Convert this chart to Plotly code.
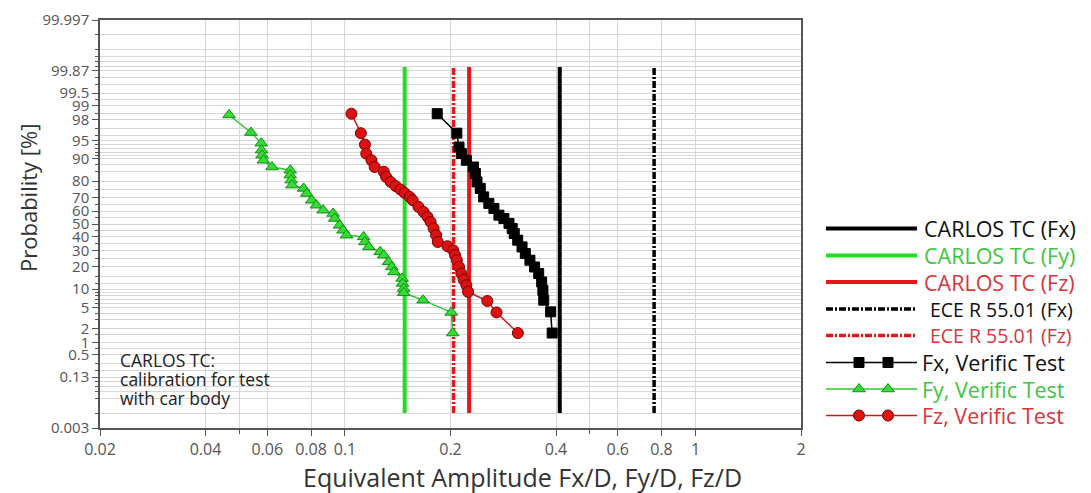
import math
from statistics import NormalDist
import plotly.graph_objects as go

# ---------------- data ----------------
# Verification test points: equivalent amplitude and probability [%]
fx_x = [0.1833, 0.2085, 0.2115, 0.2148, 0.222, 0.2325, 0.2355, 0.238, 0.2432, 0.2487,
        0.2573, 0.266, 0.2749, 0.284, 0.2937, 0.300, 0.304, 0.311, 0.320, 0.327,
        0.337, 0.3475, 0.357, 0.364, 0.367, 0.369, 0.386, 0.390]
fx_p = [98.5, 96.3, 93.5, 91.7, 89.5, 86.9, 84.0, 79.6, 75.8, 70.3,
        65.7, 62.0, 56.9, 54.3, 50.4, 46.5, 42.6, 37.5, 32.6, 28.1,
        23.8, 19.9, 16.5, 12.7, 9.6, 6.7, 4.2, 1.6]

fy_x = [0.0467, 0.0539, 0.0577, 0.0578, 0.0580, 0.0585, 0.0619, 0.0698, 0.0698, 0.0702,
        0.0706, 0.0762, 0.0778, 0.0804, 0.0829, 0.0866, 0.0925, 0.0935, 0.0965, 0.0987,
        0.101, 0.113, 0.114, 0.117, 0.126, 0.129, 0.133, 0.136, 0.138, 0.1455,
        0.146, 0.147, 0.147, 0.167, 0.201, 0.203]
fy_p = [98.4, 96.4, 94.4, 92.7, 91.2, 89.5, 86.9, 85.5, 83.2, 80.6,
        77.8, 75.8, 72.6, 68.0, 64.4, 60.7, 58.2, 54.3, 49.0, 45.1,
        41.3, 40.0, 36.2, 32.6, 29.2, 27.0, 22.8, 19.9, 17.3, 14.2,
        12.1, 10.2, 8.8, 6.7, 4.1, 1.6]

fz_x = [0.1043, 0.111, 0.114, 0.115, 0.119, 0.1215, 0.129, 0.131, 0.135, 0.1395,
        0.144, 0.148, 0.153, 0.156, 0.162, 0.1675, 0.172, 0.1755, 0.179, 0.182,
        0.184, 0.196, 0.2035, 0.206, 0.2085, 0.2115, 0.2148, 0.218, 0.222, 0.2245,
        0.2547, 0.2706, 0.3113]
fz_p = [98.5, 96.3, 94.1, 91.7, 89.5, 86.9, 84.8, 82.3, 79.6, 77.2,
        75.1, 73.0, 70.3, 68.0, 63.2, 59.4, 55.6, 51.6, 46.5, 41.3,
        36.2, 33.1, 30.3, 27.0, 23.8, 19.9, 16.5, 13.7, 11.4, 9.1,
        6.5, 4.1, 1.6]

# Limit lines (constant amplitude) and their probability extent [%]
carlos_names = ["CARLOS TC (Fx)", "CARLOS TC (Fy)", "CARLOS TC (Fz)"]
carlos_x = [0.41, 0.148, 0.226]
ece_names = ["ECE R 55.01 (Fx)", "ECE R 55.01 (Fz)"]
ece_x = [0.762, 0.204]
limit_p = [0.01, 99.9]

# Axis ticks
y_tick_vals = [0.003, 0.13, 0.5, 1, 2, 5, 10, 20, 30, 40, 50, 60, 70, 80, 90, 95, 98, 99, 99.5, 99.87, 99.997]
y_tick_text = ["0.003", "0.13", "0.5", "1", "2", "5", "10", "20", "30", "40", "50", "60", "70",
               "80", "90", "95", "98", "99", "99.5", "99.87", "99.997"]
y_minor_vals = [0.01, 0.03, 0.05, 0.07, 0.1, 0.2, 0.3, 0.7, 1.5, 3, 4, 6, 7, 8, 9, 12, 15, 25, 35, 45,
                55, 65, 75, 85, 88, 91, 92, 93, 94, 96, 97, 98.5, 99.3, 99.7, 99.8, 99.9, 99.93, 99.95,
                99.97, 99.99]
x_tick_vals = [0.02, 0.04, 0.06, 0.08, 0.1, 0.2, 0.4, 0.6, 0.8, 1, 2]
x_tick_text = ["0.02", "0.04", "0.06", "0.08", "0.1", "0.2", "0.4", "0.6", "0.8", "1", "2"]
x_minor_vals = [0.05, 0.5]

# ---------------- helpers ----------------
ND = NormalDist()


def z(p):
    return ND.inv_cdf(p / 100.0)


BLACK = "#000000"
GREEN = "#1fe01f"
RED = "#e8161c"
GREEN_TXT = "#3fc63f"
RED_TXT = "#d8353d"
FONT = "Open Sans"

fig = go.Figure()

# limit lines
carlos_colors = [BLACK, GREEN, RED]
for name, xv, col in zip(carlos_names, carlos_x, carlos_colors):
    fig.add_trace(go.Scatter(x=[xv, xv], y=[z(p) for p in limit_p], mode="lines",
                             line=dict(color=col, width=4), name=name, hoverinfo="skip"))
ece_colors = [BLACK, RED]
for name, xv, col in zip(ece_names, ece_x, ece_colors):
    fig.add_trace(go.Scatter(x=[xv, xv], y=[z(p) for p in limit_p], mode="lines",
                             line=dict(color=col, width=3.5, dash="7px,2px,2px,2px"), name=name,
                             hoverinfo="skip"))

# verification test series
series = [
    ("Fy, Verific Test", fy_x, fy_p, "#30c830", "triangle-up", "#33dd33", "#168a16", 11),
    ("Fz, Verific Test", fz_x, fz_p, "#d01818", "circle", "#dd1111", "#7a0000", 11),
    ("Fx, Verific Test", fx_x, fx_p, BLACK, "square", BLACK, BLACK, 10),
]
for name, xs, ps, lc, sym, fc, oc, sz in series:
    fig.add_trace(go.Scatter(x=xs, y=[z(p) for p in ps], mode="lines+markers", name=name,
                             line=dict(color=lc, width=1.5),
                             marker=dict(symbol=sym, size=sz, color=fc, line=dict(color=oc, width=1))))

# ---------------- geometry (page has an 8px body margin) ----------------
OFF = 8
W, H = 1091 - OFF, 493 - OFF
ML, MR, MT, MB = 100 - OFF, 5, 20 - OFF, H - (428 - OFF)
PW = W - ML - MR
PH = H - MT - MB
x_dom_end = 701 / PW
x2_start = x_dom_end + 0.001


def px_x(px):
    return (px - OFF - ML) / PW


def px_y(py):
    return (H - MB - (py - OFF)) / PH


# ---------------- manual legend (overlay axes in reference-pixel units) ----------------
legend_rows = [
    ("CARLOS TC (Fx)", 228.5, BLACK, "solid", 4, None, "#111111", 922, 21.5),
    ("CARLOS TC (Fy)", 255.5, GREEN, "solid", 4, None, GREEN_TXT, 922, 21.5),
    ("CARLOS TC (Fz)", 282, RED, "solid", 4, None, RED_TXT, 922, 21.5),
    ("ECE R 55.01 (Fx)", 309, BLACK, "7px,2px,2px,2px", 3.5, None, "#111111", 928, 19.5),
    ("ECE R 55.01 (Fz)", 335.5, RED, "7px,2px,2px,2px", 3.5, None, RED_TXT, 928, 19.5),
    ("Fx, Verific Test", 362.5, BLACK, "solid", 1.5, ("square", BLACK, BLACK, 10), "#111111", 920, 21.5),
    ("Fy, Verific Test", 389, "#30c830", "solid", 1.5, ("triangle-up", "#33dd33", "#168a16", 11),
     GREEN_TXT, 920, 21.5),
    ("Fz, Verific Test", 415.5, "#d01818", "solid", 1.5, ("circle", "#dd1111", "#7a0000", 11),
     RED_TXT, 920, 21.5),
]
for label, yy, col, dash, w, mk, tcol, tx, fs in legend_rows:
    fig.add_trace(go.Scatter(x=[826, 917], y=[yy, yy], mode="lines", xaxis="x2", yaxis="y2",
                             line=dict(color=col, width=w, dash=dash), showlegend=False,
                             hoverinfo="skip"))
    if mk is not None:
        sym, fc, oc, sz = mk
        fig.add_trace(go.Scatter(x=[859, 888], y=[yy, yy], mode="markers", xaxis="x2", yaxis="y2",
                                 marker=dict(symbol=sym, size=sz, color=fc, line=dict(color=oc, width=1)),
                                 showlegend=False, hoverinfo="skip"))
    fig.add_annotation(x=tx, y=yy, xref="x2", yref="y2", text=label, showarrow=False,
                       xanchor="left", yanchor="middle", font=dict(family=FONT, size=fs, color=tcol))

# ---------------- layout ----------------
grid_col = "#d6d6d6"
fig.update_layout(
    width=W, height=H,
    margin=dict(l=ML, r=MR, t=MT, b=MB, autoexpand=False),
    plot_bgcolor="white", paper_bgcolor="white",
    showlegend=False,
    font=dict(family=FONT, color="#555555"),
    xaxis=dict(
        type="log", range=[math.log10(0.02), math.log10(2)], domain=[0, x_dom_end],
        tickmode="array", tickvals=x_tick_vals, ticktext=x_tick_text,
        ticks="outside", ticklen=6, tickcolor="#555555",
        showline=True, linecolor="#555555", linewidth=1.5, mirror=True,
        showgrid=True, gridcolor=grid_col, gridwidth=1, zeroline=False,
        tickfont=dict(family=FONT, size=16, color="#555555"),
        minor=dict(tickmode="array", tickvals=x_minor_vals, ticks="outside", ticklen=4,
                   tickcolor="#555555", showgrid=True, gridcolor=grid_col),
    ),
    yaxis=dict(
        range=[z(0.003), z(99.997)], domain=[0, 1],
        tickmode="array", tickvals=[z(v) for v in y_tick_vals], ticktext=y_tick_text,
        ticks="outside", ticklen=6, tickcolor="#555555",
        showline=True, linecolor="#555555", linewidth=1.5, mirror=True,
        showgrid=True, gridcolor=grid_col, gridwidth=1, zeroline=False,
        tickfont=dict(family=FONT, size=15, color="#555555"),
        minor=dict(tickmode="array", tickvals=[z(v) for v in y_minor_vals], ticks="outside",
                   ticklen=3, tickcolor="#555555", showgrid=True, gridcolor=grid_col),
    ),
    xaxis2=dict(domain=[x2_start, 1], range=[ML + x2_start * PW + OFF, W - MR + OFF],
                anchor="y2", visible=False),
    yaxis2=dict(domain=[0, 1], range=[H - MB + OFF, MT + OFF], anchor="x2", visible=False),
)

# white box with note
fig.add_shape(type="rect", xref="paper", yref="paper",
              x0=px_x(101), x1=px_x(330), y0=px_y(414), y1=px_y(346),
              fillcolor="white", line=dict(width=0), layer="between")
for txt, yy in [("CARLOS TC:", 360), ("calibration for test", 379), ("with car body", 398)]:
    fig.add_annotation(x=px_x(118), y=px_y(yy), xref="paper", yref="paper", text=txt,
                       showarrow=False, xanchor="left", yanchor="middle",
                       font=dict(family=FONT, size=17.5, color="#222222"))

# axis titles
fig.add_annotation(x=px_x(522), y=px_y(477), xref="paper", yref="paper",
                   text="Equivalent Amplitude Fx/D, Fy/D, Fz/D", showarrow=False,
                   xanchor="center", yanchor="middle", font=dict(family=FONT, size=25, color="#333333"))
fig.add_annotation(x=px_x(28), y=px_y(198), xref="paper", yref="paper",
                   text="Probability [%]", showarrow=False, textangle=-90,
                   xanchor="center", yanchor="middle", font=dict(family=FONT, size=22, color="#333333"))

fig.write_html("out.html")
